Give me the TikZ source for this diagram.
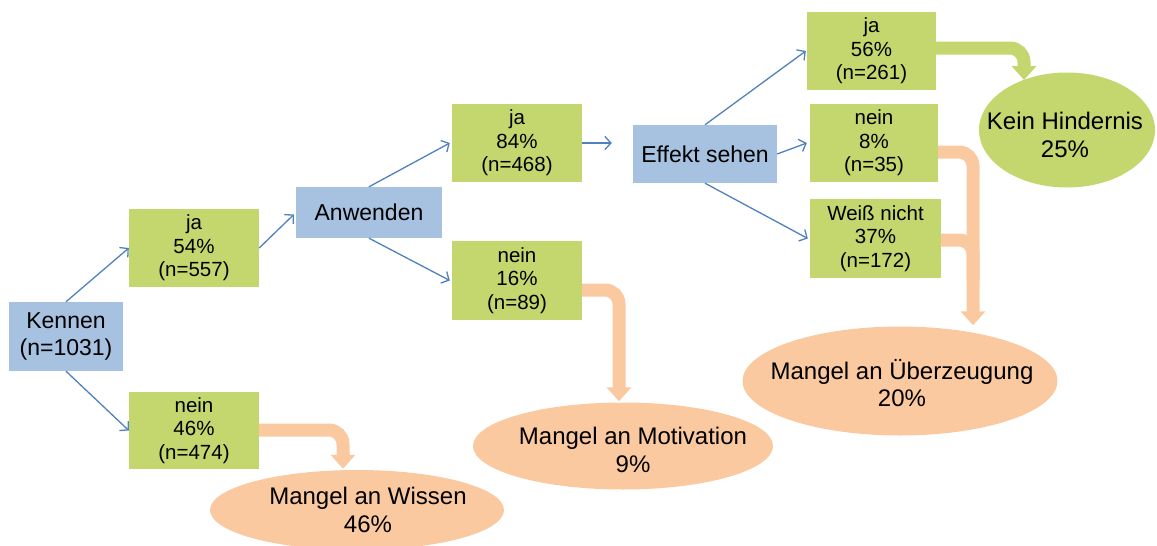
\documentclass[tikz,border=0pt]{standalone}
\usepackage{fontspec}
\setmainfont{Liberation Sans}
\usetikzlibrary{shapes.geometric,arrows.meta}
\definecolor{boxgreen}{HTML}{C4D66E}
\definecolor{boxblue}{HTML}{A7C1E0}
\definecolor{peach}{HTML}{FBC9A0}
\definecolor{linkblue}{HTML}{4F81BD}
\tikzset{
  gbox/.style={fill=boxgreen,draw=none,inner sep=0pt,align=center,font=\fontsize{20.5}{23.5}\selectfont},
  bbox/.style={fill=boxblue,draw=none,inner sep=0pt,align=center,font=\fontsize{23}{27}\selectfont},
  gell/.style={ellipse,fill=boxgreen,draw=none,inner sep=0pt},
  pell/.style={ellipse,fill=peach,draw=none,inner sep=0pt},
  elltext/.style={inner sep=0pt,align=center,font=\fontsize{24}{27.5}\selectfont},
  thin/.style={draw=linkblue,line width=1.3pt,-{Straight Barb[length=6pt,width=13pt]}},
  fat/.style={line width=13pt,rounded corners=14pt,-{Triangle[width=24pt,length=14pt]}},
  fatnotip/.style={line width=13pt,rounded corners=14pt}
}
\begin{document}
\begin{tikzpicture}[x=1pt,y=-1pt]
\useasboundingbox (0,0) rectangle (1157,546);
% ellipses
\node[pell,minimum width=294pt,minimum height=80pt] (wissen) at (357,510) {};
\node[elltext] at ([xshift=11pt,yshift=0pt]wissen.center) {Mangel an Wissen\\46\%};
\node[pell,minimum width=300pt,minimum height=87pt] (motiv) at (623,446) {};
\node[elltext] at ([xshift=10pt,yshift=-4pt]motiv.center) {Mangel an Motivation\\9\%};
\node[pell,minimum width=315pt,minimum height=109pt] (ueber) at (900,381) {};
\node[elltext] at ([xshift=2pt,yshift=-2pt]ueber.center) {Mangel an Überzeugung\\20\%};
\node[gell,minimum width=176pt,minimum height=115pt] (kein) at (1067,130) {};
\node[elltext] at ([xshift=-2pt,yshift=-5pt]kein.center) {Kein Hindernis\\25\%};
% boxes
\node[bbox,minimum width=114pt,minimum height=69pt] (kennen) at (66,336.5) {Kennen\\(n=1031)};
\node[gbox,minimum width=130pt,minimum height=78pt] (ja1) at (194,248) {ja\\54\%\\(n=557)};
\node[gbox,minimum width=130pt,minimum height=77pt] (nein1) at (194,430.5) {nein\\46\%\\(n=474)};
\node[bbox,minimum width=146pt,minimum height=51pt] (anw) at (369,212.5) {Anwenden};
\node[gbox,minimum width=130pt,minimum height=78pt] (ja2) at (517,143) {ja\\84\%\\(n=468)};
\node[gbox,minimum width=130pt,minimum height=79pt] (nein2) at (517,280.5) {nein\\16\%\\(n=89)};
\node[bbox,minimum width=144pt,minimum height=58pt] (eff) at (705,154) {Effekt sehen};
\node[gbox,minimum width=129pt,minimum height=78pt] (ja3) at (871.5,51) {ja\\56\%\\(n=261)};
\node[gbox,minimum width=128pt,minimum height=78pt] (nein3) at (874,143) {nein\\8\%\\(n=35)};
\node[gbox,minimum width=131pt,minimum height=79pt] (weiss) at (875.5,238.5) {Weiß nicht\\37\%\\(n=172)};
% thin connectors
\draw[thin] (kennen.north) -- (ja1.west);
\draw[thin] (kennen.south) -- (nein1.west);
\draw[thin] (ja1.east) -- ([xshift=-2pt,yshift=-2pt]anw.west);
\draw[thin] (anw.north) -- ([xshift=-2pt]ja2.west);
\draw[thin] (anw.south) -- ([xshift=-2pt]nein2.west);
\draw[thin,shorten >=21pt] (ja2.east) -- (eff.west |- ja2.east);
\draw[thin] (eff.north) -- ([xshift=-1pt]ja3.west);
\draw[thin] (eff.east) -- ([xshift=-3pt]nein3.west);
\draw[thin] (eff.south) -- ([xshift=-2pt]weiss.west);
% fat connectors
\coordinate (c1) at (343,430);
\coordinate (c2) at (619,290);
\coordinate (c3) at (973,152);
\coordinate (c4) at (973,240);
\coordinate (c5) at (1024,48);
\draw[fat,draw=peach] (nein1.east |- c1) -- (c1) -- ([yshift=1pt]wissen.north -| c1);
\draw[fat,draw=peach] (nein2.east |- c2) -- (c2) -- ([yshift=1pt]motiv.north -| c2);
\draw[fatnotip,draw=peach] (weiss.east |- c4) -- (c4) -- ++(0,40);
\draw[fat,draw=peach] (nein3.east |- c3) -- (c3) -- ([yshift=1pt]ueber.north -| c3);
\draw[fat,draw=boxgreen] (ja3.east |- c5) -- (c5) -- (1024,80);
\end{tikzpicture}
\end{document}
